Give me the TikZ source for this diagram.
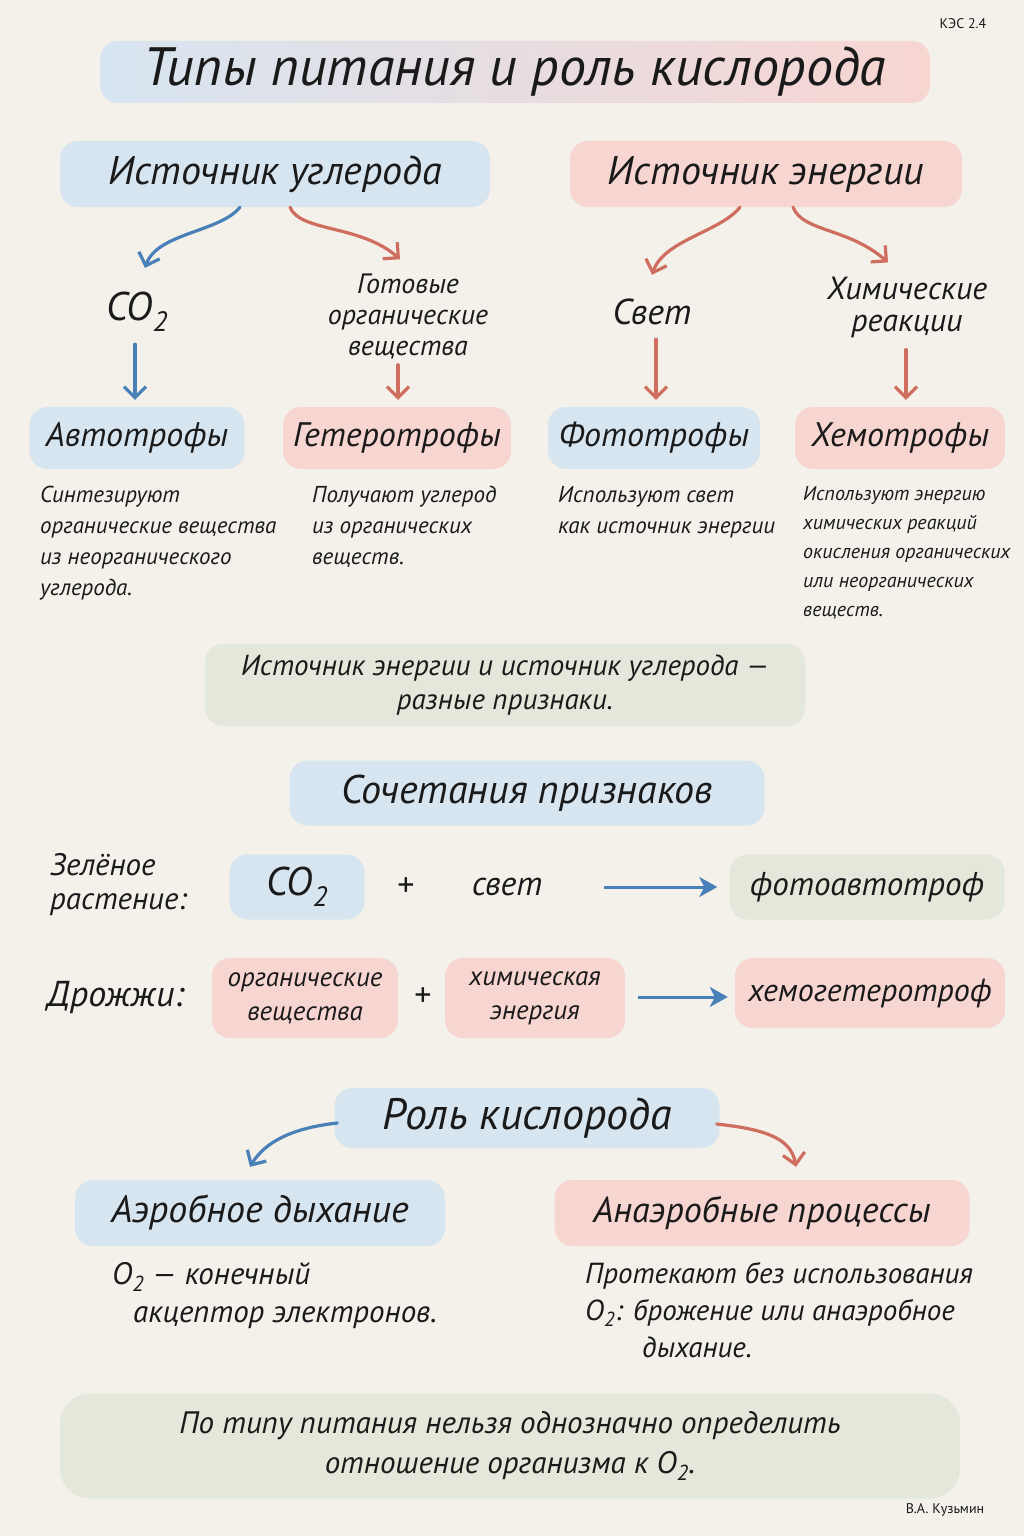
\documentclass[tikz,border=0pt]{standalone}
\usepackage{fontspec}
\setmainfont{PT Sans}
\usetikzlibrary{arrows.meta}

\definecolor{paper}{HTML}{F3F1EA}
\definecolor{bandblue}{HTML}{D7E5F1}
\definecolor{bandred}{HTML}{F7D5D1}
\definecolor{bandgreen}{HTML}{E3E8DA}
\definecolor{arrowblue}{HTML}{4A80B8}
\definecolor{arrowred}{HTML}{CF6E5F}
\definecolor{ink}{HTML}{1A1A1A}

\newcommand\setfs[2]{\fontsize{#1}{#2}\selectfont}

\begin{document}
\begin{tikzpicture}[x=1pt,y=-1pt,
        band/.style={rounded corners=18pt, inner sep=0pt, align=center, text=ink},
        blueband/.style={band, fill=bandblue},
        redband/.style={band, fill=bandred},
        greenband/.style={band, fill=bandgreen},
        txt/.style={inner sep=0pt, text=ink},
        bluearrow/.style={draw=arrowblue, line width=3.2pt, line cap=round, -{Straight Barb[length=11pt,width=22pt]}},
        redarrow/.style={draw=arrowred, line width=3.2pt, line cap=round, -{Straight Barb[length=11pt,width=22pt]}},
        longarrow/.style={draw=arrowblue, line width=3pt, -{Stealth[length=18pt,width=20pt,inset=5pt]}}
    ]
                \useasboundingbox (0,0) rectangle (1024,1536);
                \fill[paper] (0,0) rectangle (1024,1536);

                \node[txt, font=\setfs{14}{16}] (kes) at (963,24) {КЭС 2.4};
                \node[band, left color=bandblue, right color=bandred, minimum width=830pt, minimum height=62pt,
                    font=\itshape\setfs{54}{60}] (title) at (515,72) {Типы питания и роль кислорода};

                \node[blueband, minimum width=430pt, minimum height=66pt, font=\itshape\setfs{40}{44}] (carbon) at (275,174) {Источник углерода};
                \node[redband, minimum width=392pt, minimum height=66pt, font=\itshape\setfs{40}{44}] (energy) at (766,174) {Источник энергии};

                \node[txt, font=\itshape\setfs{40}{44}] (co2) at (137,312) {CO\textsubscript{2}};
                \node[txt, align=center, font=\itshape\setfs{28}{31}] (ready) at (408,316) {Готовые\\органические\\вещества};
                \node[txt, font=\itshape\setfs{36}{40}] (light) at (652,312) {Свет};
                \node[txt, align=center, font=\itshape\setfs{32}{32}] (chem) at (907,307) {Химические\\реакции};

                \draw[bluearrow] ([shift={(-35,0)}]carbon.south) .. controls +(-20,25) and +(12,-35) .. ([shift={(8,-24)}]co2.north);
                \draw[redarrow] ([shift={(15,0)}]carbon.south) .. controls +(10,25) and +(-40,-35) .. ([shift={(-8,-14)}]ready.north);
                \draw[redarrow] ([shift={(-26,0)}]energy.south) .. controls +(-20,25) and +(12,-35) .. ([shift={(0,-24)}]light.north);
                \draw[redarrow] ([shift={(27,0)}]energy.south) .. controls +(10,25) and +(-40,-35) .. ([shift={(-19,-14)}]chem.north);

                \node[blueband, minimum width=215pt, minimum height=62pt, font=\itshape\setfs{34}{40}] (auto) at (137,438) {Автотрофы};
                \node[redband, minimum width=228pt, minimum height=62pt, font=\itshape\setfs{34}{40}] (hetero) at (397,438) {Гетеротрофы};
                \node[blueband, minimum width=212pt, minimum height=62pt, font=\itshape\setfs{34}{40}] (photo) at (654,438) {Фототрофы};
                \node[redband, minimum width=210pt, minimum height=62pt, font=\itshape\setfs{34}{40}] (chemo) at (900,438) {Хемотрофы};

                \draw[bluearrow] ([shift={(-2,12)}]co2.south) -- ([shift={(-2,-7)}]auto.north);
                \draw[redarrow] ([shift={(-10,6)}]ready.south) -- ([shift={(1,-7)}]hetero.north);
                \draw[redarrow] ([shift={(4,14)}]light.south) -- ([shift={(2,-7)}]photo.north);
                \draw[redarrow] ([shift={(-1,12)}]chem.south) -- ([shift={(6,-7)}]chemo.north);

                \node[txt, anchor=north west, align=left, font=\itshape\setfs{23}{31}] (autotext) at (40,486)
                    {Синтезируют\\органические вещества\\из неорганического\\углерода.};
                \node[txt, anchor=north west, align=left, font=\itshape\setfs{23}{31}] (heterotext) at (312,486)
                    {Получают углерод\\из органических\\веществ.};
                \node[txt, anchor=north west, align=left, font=\itshape\setfs{23}{31}] (phototext) at (558,486)
                    {Используют свет\\как источник энергии};
                \node[txt, anchor=north west, align=left, font=\itshape\setfs{20}{29}] (chemotext) at (803,486)
                    {Используют энергию\\химических реакций\\окисления органических\\или неорганических\\веществ.};

                \node[greenband, minimum width=600pt, minimum height=82pt, font=\itshape\setfs{29}{34}] (note) at (505,685)
                    {Источник энергии и источник углерода —\\разные признаки.};

                \node[blueband, minimum width=475pt, minimum height=65pt, font=\itshape\setfs{40}{44}] (combos) at (527,793) {Сочетания признаков};

                \node[txt, anchor=west, align=left, font=\itshape\setfs{31}{34}] (plant) at (50,885) {Зелёное\\растение:};
                \node[blueband, minimum width=135pt, minimum height=65pt, font=\itshape\setfs{40}{44}] (plantco2) at (297,887) {CO\textsubscript{2}};
                \node[txt, font=\itshape\setfs{34}{38}] (plantplus) at (405,887) {+};
                \node[txt, font=\itshape\setfs{34}{38}] (plantlight) at (507,887) {свет};
                \node[greenband, minimum width=275pt, minimum height=65pt, font=\itshape\setfs{33}{40}] (plantres) at (867,887) {фотоавтотроф};
                \draw[longarrow] ([shift={(62,0)}]plantlight.east) -- ([shift={(-12,0)}]plantres.west);

                \node[txt, anchor=west, font=\itshape\setfs{36}{40}] (yeast) at (47,997) {Дрожжи:};
                \node[redband, minimum width=186pt, minimum height=80pt, font=\itshape\setfs{27}{34}] (yeastorg) at (305,998) {органические\\вещества};
                \node[txt, font=\itshape\setfs{34}{38}] (yeastplus) at (422,997) {+};
                \node[redband, minimum width=180pt, minimum height=80pt, font=\itshape\setfs{27}{34}] (yeastchem) at (535,998) {химическая\\энергия};
                \node[redband, minimum width=270pt, minimum height=70pt, font=\itshape\setfs{32}{38}] (yeastres) at (870,993) {хемогетеротроф};
                \draw[longarrow] ([shift={(13,-1)}]yeastchem.east) -- ([shift={(-7,4)}]yeastres.west);

                \node[blueband, minimum width=385pt, minimum height=60pt, font=\itshape\setfs{44}{48}] (oxygen) at (527,1118) {Роль кислорода};
                \node[blueband, minimum width=370pt, minimum height=66pt, font=\itshape\setfs{38}{42}] (aerob) at (260,1213) {Аэробное дыхание};
                \node[redband, minimum width=415pt, minimum height=66pt, font=\itshape\setfs{36}{40}] (anaerob) at (762,1213) {Анаэробные процессы};

                \draw[bluearrow] ([shift={(3,5)}]oxygen.west) .. controls +(-45,5) and +(15,-25) .. ([shift={(-10,-13)}]aerob.north);
                \draw[redarrow] ([shift={(-3,6)}]oxygen.east) .. controls +(45,5) and +(-5,-30) .. ([shift={(34,-13)}]anaerob.north);

                \node[txt, anchor=north west, align=left, font=\itshape\setfs{31}{38}] (aerobtext) at (112,1262)
                    {O\textsubscript{2} — конечный\\\hspace*{21pt}акцептор электронов.};
                \node[txt, anchor=north west, align=left, font=\itshape\setfs{29}{37}] (anaerobtext) at (585,1262)
                    {Протекают без использования\\O\textsubscript{2}: брожение или анаэробное\\\hspace*{57pt}дыхание.};

                \node[greenband, rounded corners=30pt, minimum width=900pt, minimum height=105pt, font=\itshape\setfs{31}{40}] (final) at (510,1446)
                    {По типу питания нельзя однозначно определить\\отношение организма к O\textsubscript{2}.};

                \node[txt, font=\setfs{14}{16}] (author) at (945,1510) {В.А. Кузьмин};
\end{tikzpicture}
\end{document}
